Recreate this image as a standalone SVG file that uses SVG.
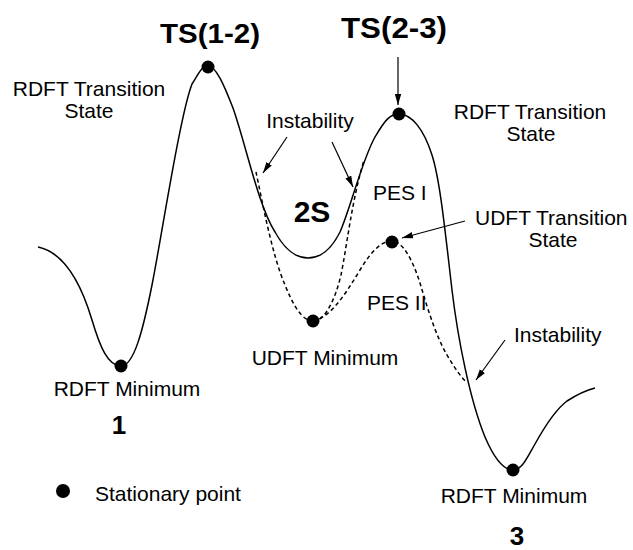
<svg xmlns="http://www.w3.org/2000/svg" width="633" height="550" viewBox="0 0 633 550">
<style>
.t{font-family:"Liberation Sans",Arial,sans-serif;font-size:21px;fill:#000}
.b{font-family:"Liberation Sans",Arial,sans-serif;font-weight:bold;fill:#000}
.m{text-anchor:middle}
.sol{fill:none;stroke:#000;stroke-width:1.5}
.dash{fill:none;stroke:#000;stroke-width:1.5;stroke-dasharray:4 3}
.arr{fill:none;stroke:#000;stroke-width:1.2;marker-end:url(#ah)}
.dot{fill:#000}
</style>
<defs>
<marker id="ah" markerUnits="userSpaceOnUse" markerWidth="12" markerHeight="8" refX="11" refY="4" orient="auto">
<path d="M0,0.8 L11,4 L0,7.2 Z" fill="#000"/>
</marker>
</defs>
<rect width="633" height="550" fill="#fff"/>
<g id="connectors">
<path id="pes1" class="sol" d="M38,247 C62,252 80,280 92,320 C100,347 108,366 121,366 C134,366 143,330 152,285 C161,240 180,115 192,84 C199,73 202,66 208,66 C216,66 224,85 233,108 C246,145 258,205 275,232 C285,250 296,258 308,258 C322,258 332,248 340,232 C350,210 362,160 375,137 C385,120 390,114 399,114 C412,114 424,130 432,155 C440,180 445,230 452,290 C458,340 470,400 485,437 C494,458 503,470 513,470 C522,470 527,458 535,444 C545,426 555,410 567,401 C578,394 587,390 595,388"/>
<path id="pes2a" class="dash" d="M256,172 C262,200 272,255 285,285 C293,305 302,321 313,321"/>
<path id="pes2b" class="dash" d="M313,321 C325,321 335,300 341,275 C347,245 352,200 364,160"/>
<path id="pes2c" class="dash" d="M313,321 C330,318 345,295 360,270 C372,250 382,241 392,241 C402,241 412,258 420,283 C428,310 437,340 450,360 C456,370 462,378 467,383"/>
<line class="arr" x1="398" y1="57" x2="398" y2="105"/>
<line class="arr" x1="287" y1="137" x2="263" y2="173"/>
<line class="arr" x1="332" y1="142" x2="353" y2="187"/>
<line class="arr" x1="465" y1="221" x2="402" y2="238"/>
<line class="arr" x1="505" y1="340" x2="476" y2="380"/>
</g>
<g id="rdft-min-1">
<circle class="dot" cx="121" cy="366" r="6.5"/>
<text class="t m" x="127" y="396">RDFT Minimum</text>
<text class="b m" x="119" y="434" font-size="26">1</text>
</g>
<g id="ts-1-2">
<circle class="dot" cx="208" cy="67" r="6.5"/>
<text class="b m" x="210" y="43" font-size="28" textLength="100" lengthAdjust="spacingAndGlyphs">TS(1-2)</text>
<text class="t m" x="89" y="96">RDFT Transition</text>
<text class="t m" x="89" y="118">State</text>
</g>
<g id="min-2s">
<text class="b m" x="312" y="222" font-size="30">2S</text>
<text class="t m" x="310" y="128">Instability</text>
</g>
<g id="udft-min">
<circle class="dot" cx="313" cy="321" r="6.5"/>
<text class="t m" x="325" y="365">UDFT Minimum</text>
</g>
<g id="ts-2-3">
<circle class="dot" cx="399" cy="114" r="6.5"/>
<text class="b m" x="394" y="38" font-size="29" textLength="106" lengthAdjust="spacingAndGlyphs">TS(2-3)</text>
<text class="t m" x="530" y="119">RDFT Transition</text>
<text class="t m" x="531" y="141">State</text>
<text class="t" x="373" y="200">PES I</text>
</g>
<g id="udft-ts">
<circle class="dot" cx="392" cy="242" r="6.5"/>
<text class="t" x="475" y="225">UDFT Transition</text>
<text class="t m" x="553" y="247">State</text>
<text class="t" x="367" y="310">PES II</text>
</g>
<g id="rdft-min-3">
<circle class="dot" cx="513" cy="470" r="6.5"/>
<text class="t" x="514" y="342">Instability</text>
<text class="t m" x="514" y="503">RDFT Minimum</text>
<text class="b m" x="517" y="545" font-size="26">3</text>
</g>
<g id="legend">
<circle class="dot" cx="63" cy="491" r="7"/>
<text class="t" x="95" y="501">Stationary point</text>
</g>
</svg>
